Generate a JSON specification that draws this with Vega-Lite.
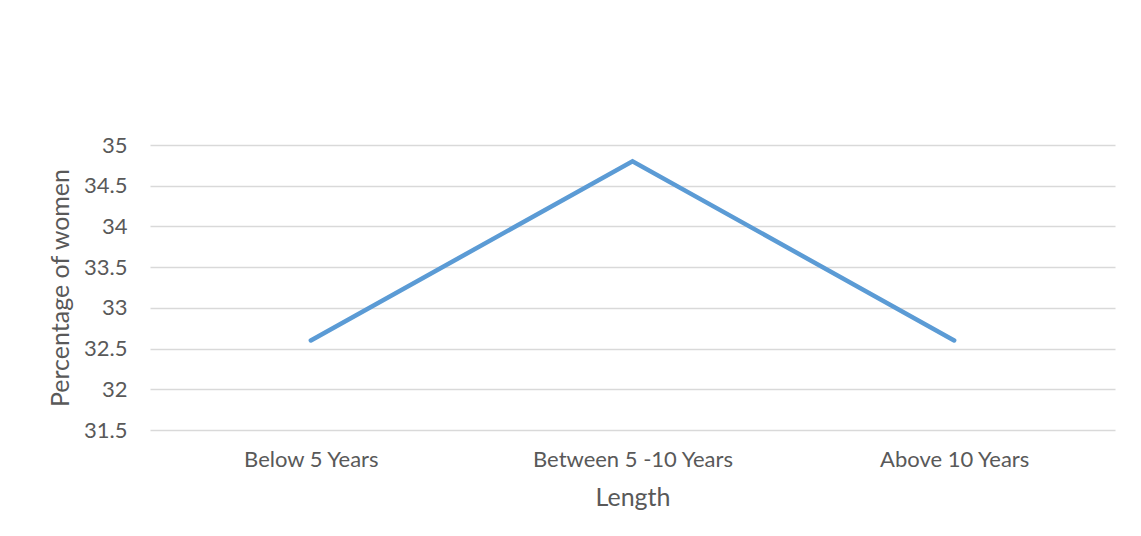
{
  "$schema": "https://vega.github.io/schema/vega-lite/v6.json",
  "width": 965,
  "height": 285,
  "autosize": {"type": "none"},
  "padding": {"left": 150, "top": 145, "right": 26, "bottom": 106},
  "background": "#ffffff",
  "config": {
    "view": {"stroke": null},
    "font": "Lato",
    "axis": {
      "labelFont": "Lato",
      "titleFont": "Lato",
      "labelColor": "#595959",
      "titleColor": "#595959",
      "labelFontSize": 22,
      "titleFontSize": 25,
      "titleFontWeight": "normal",
      "labelLimit": 0,
      "domain": false,
      "ticks": false
    }
  },
  "data": {
    "values": [
      {"length": "Below 5 Years", "pct": 32.6},
      {"length": "Between 5 -10 Years", "pct": 34.8},
      {"length": "Above 10 Years", "pct": 32.6}
    ]
  },
  "mark": {"type": "line", "color": "#5b9bd5", "strokeWidth": 4.5, "strokeCap": "round"},
  "encoding": {
    "x": {
      "field": "length",
      "type": "nominal",
      "sort": null,
      "scale": {"paddingInner": 0, "paddingOuter": 0.5},
      "axis": {
        "title": "Length",
        "labelAngle": 0,
        "labelPadding": 19,
        "titlePadding": 15,
        "grid": false
      }
    },
    "y": {
      "field": "pct",
      "type": "quantitative",
      "scale": {"domain": [31.5, 35], "zero": false, "nice": false},
      "axis": {
        "title": "Percentage of women",
        "values": [31.5, 32, 32.5, 33, 33.5, 34, 34.5, 35],
        "format": "~g",
        "labelPadding": 23,
        "titlePadding": 10,
        "grid": true,
        "gridColor": "#d9d9d9",
        "gridWidth": 1.5
      }
    }
  }
}
